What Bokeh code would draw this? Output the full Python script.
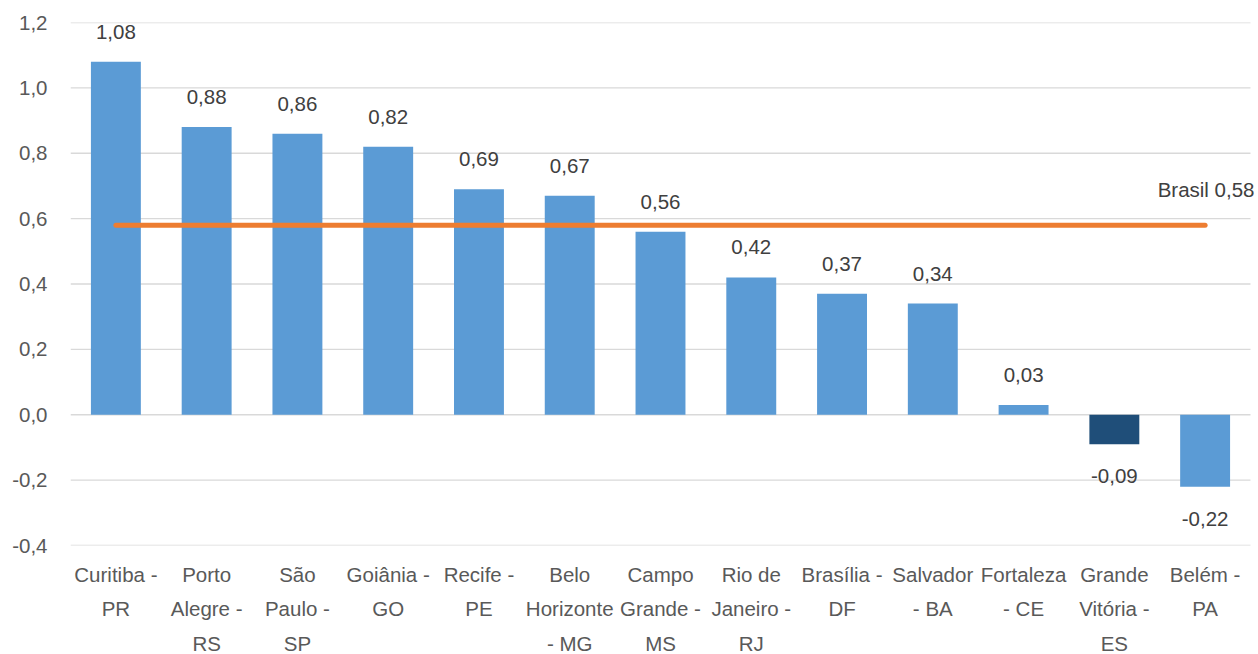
from bokeh.plotting import figure
from bokeh.models import Range1d, FixedTicker, CustomJSTickFormatter, Label, ColumnDataSource
from bokeh.core.properties import value
from bokeh.embed import file_html
from bokeh.resources import INLINE

categories = ["Curitiba -\nPR", "Porto\nAlegre -\nRS", "São\nPaulo -\nSP", "Goiânia -\nGO",
              "Recife -\nPE", "Belo\nHorizonte\n- MG", "Campo\nGrande -\nMS", "Rio de\nJaneiro -\nRJ",
              "Brasília -\nDF", "Salvador\n- BA", "Fortaleza\n- CE", "Grande\nVitória -\nES", "Belém -\nPA"]
values = [1.08, 0.88, 0.86, 0.82, 0.69, 0.67, 0.56, 0.42, 0.37, 0.34, 0.03, -0.09, -0.22]
highlight = "Grande\nVitória -\nES"
brasil = 0.58
brasil_label = "Brasil 0,58"
y_ticks = [-0.4, -0.2, 0.0, 0.2, 0.4, 0.6, 0.8, 1.0, 1.2]

FONT = "Liberation Sans"
FS = "20.5px"
n = len(categories)
xs = list(range(n))
colors = ["#1F4E79" if c == highlight else "#5B9BD5" for c in categories]
labels = [f"{v:.2f}".replace(".", ",") for v in values]
offsets = [-30 if v >= 0 else 32 for v in values]
src = ColumnDataSource(dict(x=xs, top=values, color=colors, label=labels, off=offsets))

plot_w = 1180            # width of the category area in pixels
extra = 8                # room on the right for the "Brasil" label
per = plot_w / n
p = figure(frame_width=plot_w + extra, frame_height=523, output_backend="svg", toolbar_location=None,
           x_range=Range1d(-0.5, n - 0.5 + extra / per), y_range=Range1d(-0.4, 1.2))
p.min_border_left = 70
p.min_border_right = 0
p.min_border_top = 22
p.min_border_bottom = 0
p.outline_line_color = None
p.background_fill_color = "white"

# horizontal grid lines spanning the category area only
p.segment(x0=[-0.5] * len(y_ticks), x1=[n - 0.5] * len(y_ticks), y0=y_ticks, y1=y_ticks,
          line_color="#D9D9D9", line_width=1.3, level="underlay")

p.vbar(x="x", top="top", bottom=0, width=0.55, fill_color="color", line_color=None, source=src)
p.line([xs[0], xs[-1]], [brasil, brasil], line_color="#ED7D31", line_width=5, line_cap="round")
p.text(x="x", y="top", text="label", y_offset="off", source=src, text_align="center",
       text_baseline="middle", text_font=value(FONT), text_font_size=FS, text_color="#404040")

p.add_layout(Label(x=n - 0.5, y=brasil, text=brasil_label, x_offset=4, y_offset=36,
                   text_align="right", text_baseline="middle", text_font=FONT,
                   text_font_size=FS, text_color="#404040"))

p.xgrid.grid_line_color = None
p.ygrid.grid_line_color = None
p.yaxis.ticker = FixedTicker(ticks=y_ticks)
p.yaxis.formatter = CustomJSTickFormatter(code="return tick.toFixed(1).replace('.', ',');")
p.xaxis.ticker = FixedTicker(ticks=xs)
p.xaxis.major_label_overrides = {i: c for i, c in enumerate(categories)}
for ax in (p.xaxis, p.yaxis):
    ax.axis_line_color = None
    ax.major_tick_line_color = None
    ax.minor_tick_line_color = None
    ax.major_tick_out = 0
    ax.major_tick_in = 0
    ax.major_label_text_font = FONT
    ax.major_label_text_font_size = FS
    ax.major_label_text_color = "#595959"
p.yaxis.major_label_standoff = 23
p.xaxis.major_label_standoff = 17
p.xaxis.major_label_text_line_height = 1.5

open("out.html", "w").write(file_html(p, INLINE))
